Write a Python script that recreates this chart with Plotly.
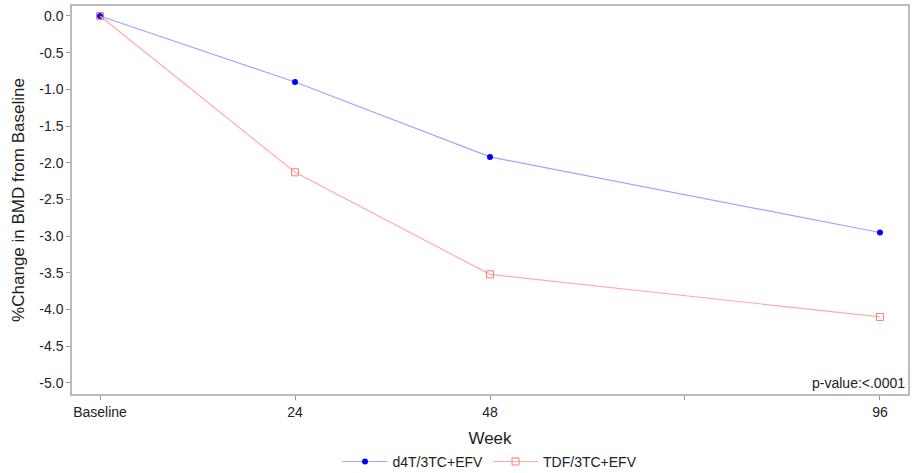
import plotly.graph_objects as go

weeks = [0, 24, 48, 96]
tick_vals = [0, 24, 48, 72, 96]
tick_text = ["Baseline", "24", "48", "", "96"]
d4t = [0.0, -0.90, -1.92, -2.95]
tdf = [0.0, -2.13, -3.52, -4.10]
y_ticks = [0, -0.5, -1, -1.5, -2, -2.5, -3, -3.5, -4, -4.5, -5]
y_text = ["0.0", "-0.5", "-1.0", "-1.5", "-2.0", "-2.5", "-3.0", "-3.5", "-4.0", "-4.5", "-5.0"]

font = dict(family="Liberation Sans, Arial, sans-serif", size=14, color="#222")

fig = go.Figure()
fig.add_trace(go.Scatter(
    x=weeks, y=d4t, name="d4T/3TC+EFV", mode="lines+markers",
    line=dict(color="#a3a3ff", width=1.2),
    marker=dict(symbol="circle", color="#0000ff", size=6),
))
fig.add_trace(go.Scatter(
    x=weeks, y=tdf, name="TDF/3TC+EFV", mode="lines+markers",
    line=dict(color="#ffabab", width=1.2),
    marker=dict(symbol="square-open", color="#f47c7c", size=7, line=dict(width=1)),
))

fig.update_layout(
    width=917, height=473,
    margin=dict(l=72, r=9, t=6, b=79, autoexpand=False),
    plot_bgcolor="white", paper_bgcolor="white",
    font=font,
    showlegend=True,
    legend=dict(orientation="h", x=0.5, xanchor="center", y=-0.175, yanchor="middle",
                font=dict(size=14), traceorder="normal", itemwidth=45),
    xaxis=dict(
        range=[-3.45, 99.45], tickvals=tick_vals, ticktext=tick_text, automargin=False,
        ticks="outside", ticklen=4, tickcolor="#999", showgrid=False, zeroline=False,
        showline=True, linecolor="#bbb", linewidth=1.5, mirror=True,
        title=dict(text="Week", standoff=14),
    ),
    yaxis=dict(
        range=[-5.15, 0.136], tickvals=y_ticks, ticktext=y_text, automargin=False,
        ticks="outside", ticklen=4, tickcolor="#999", showgrid=False, zeroline=False,
        showline=True, linecolor="#bbb", linewidth=1.5, mirror=True,
        title=dict(text="%Change in BMD from Baseline", standoff=10),
    ),
    annotations=[dict(text="p-value:<.0001", xref="paper", yref="paper", x=1, y=0,
                      xanchor="right", yanchor="bottom", showarrow=False,
                      font=dict(size=14), xshift=-1, yshift=1)],
)

fig.write_html("out.html", config={"displayModeBar": False},
               post_script="document.body.style.margin='0';document.body.style.overflow='hidden';")
